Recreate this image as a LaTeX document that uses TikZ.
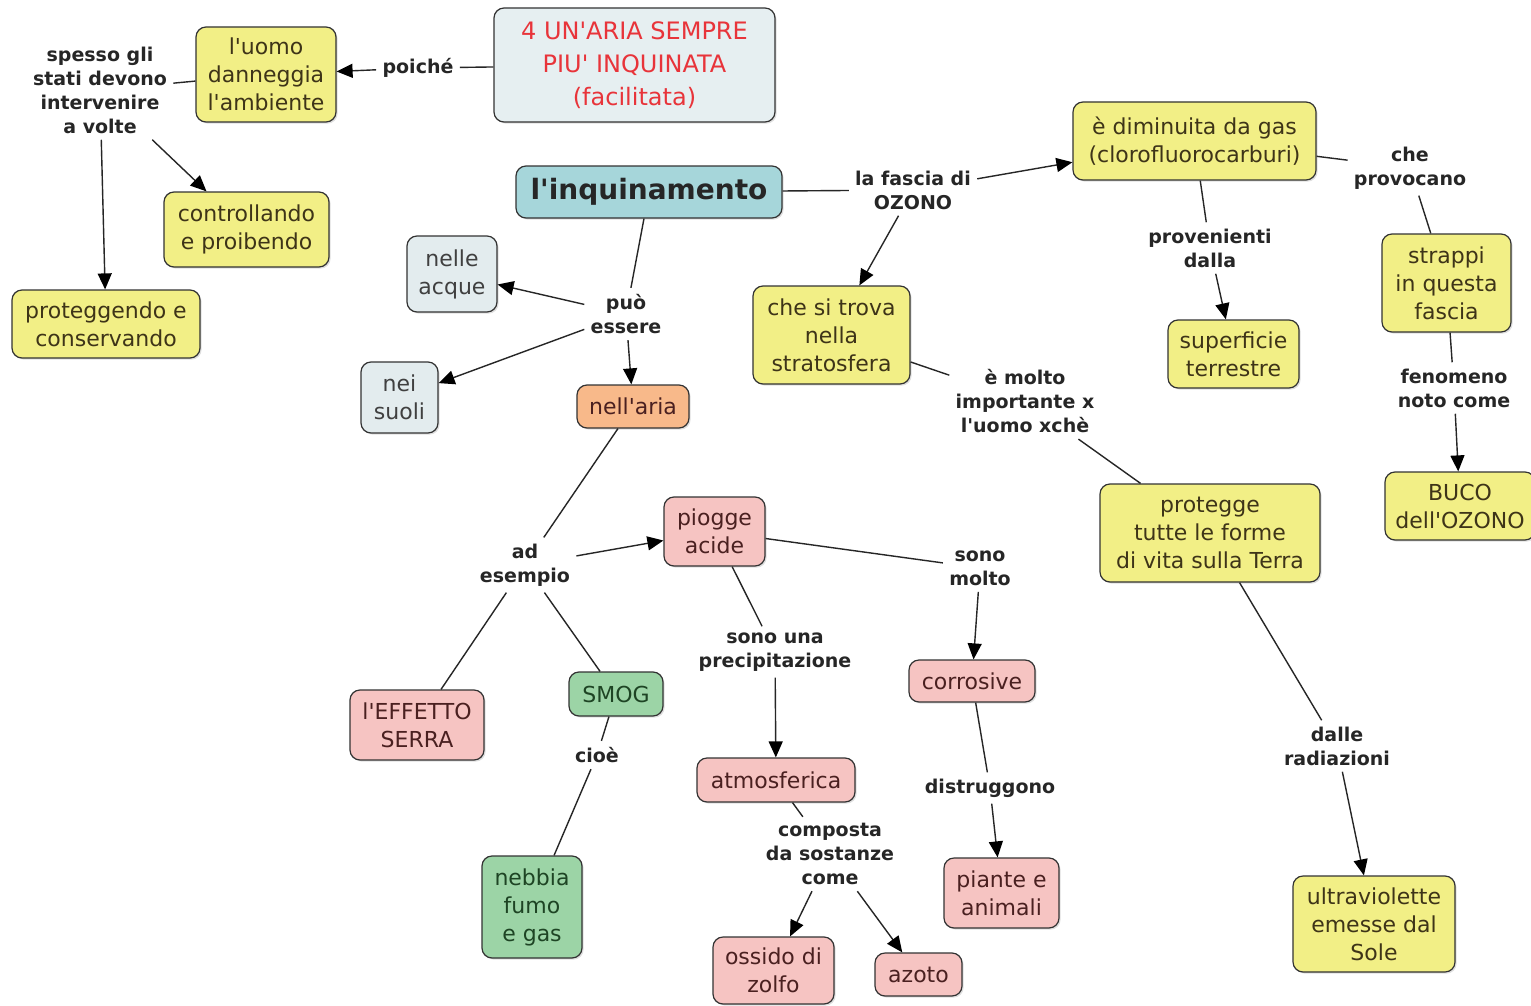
\documentclass[tikz,border=0pt]{standalone}
\usepackage{fontspec}
\setmainfont{DejaVu Sans}[Ligatures=TeXOff]
\usetikzlibrary{arrows.meta,shadows}
\definecolor{cyel}{HTML}{F2EF86}
\definecolor{ctitle}{HTML}{E6EFF1}
\definecolor{cinq}{HTML}{A6D6DA}
\definecolor{cgrey}{HTML}{E3ECEE}
\definecolor{corange}{HTML}{F8B98A}
\definecolor{cpink}{HTML}{F6C4C2}
\definecolor{cgreen}{HTML}{9CD4A6}
\definecolor{tred}{HTML}{E8343A}
\definecolor{tyel}{HTML}{3E3418}
\definecolor{tpink}{HTML}{4A2020}
\definecolor{tgreen}{HTML}{1E4424}
\tikzset{
  box/.style={draw=black!80, line width=0.6pt, rounded corners=5pt, align=center, inner sep=2pt,
    font=\fontsize{11}{14}\selectfont,
    drop shadow={shadow xshift=0.8pt, shadow yshift=-0.8pt, opacity=0.25}},
  yel/.style={box, fill=cyel, text=tyel},
  pink/.style={box, fill=cpink, text=tpink},
  green/.style={box, fill=cgreen, text=tgreen},
  grey/.style={box, fill=cgrey, text=black!75},
  lab/.style={align=center, font=\bfseries\fontsize{9.5}{12}\selectfont, inner sep=3pt, text=black!85},
  ln/.style={line width=0.7pt, draw=black!85},
  arr/.style={ln, -{Triangle[length=8pt,width=7pt,color=black]}},
  sz/.style 2 args={minimum width=#1, minimum height=#2},
}
\begin{document}
\begin{tikzpicture}[x=0.5pt, y=-0.5pt]
\useasboundingbox (0,0) rectangle (1531,1006);
\fill[white] (0,0) rectangle (1531,1006);

% concept nodes
\node[box, fill=ctitle, text=tred, font=\fontsize{12}{16.5}\selectfont, sz={140.5pt}{57pt}] (title) at (634.5,65) {4 UN'ARIA SEMPRE\\PIU' INQUINATA\\(facilitata)};
\node[yel, sz={70pt}{47.5pt}] (uomo) at (266,74.5) {l'uomo\\danneggia\\l'ambiente};
\node[yel, sz={82.5pt}{37.5pt}] (contr) at (246.5,229.5) {controllando\\e proibendo};
\node[yel, sz={94pt}{34pt}] (prot) at (106,324) {proteggendo e\\conservando};
\node[box, fill=cinq, text=black!85, font=\bfseries\fontsize{14}{16}\selectfont, sz={133pt}{26pt}] (inq) at (649,192) {l'inquinamento};
\node[yel, sz={121.5pt}{39pt}] (dimin) at (1194.5,141) {è diminuita da gas\\(clorofluorocarburi)};
\node[yel, sz={65.5pt}{34pt}] (superf) at (1233.5,354) {superficie\\terrestre};
\node[yel, sz={64.5pt}{49pt}] (strappi) at (1446.5,283) {strappi\\in questa\\fascia};
\node[yel, sz={75pt}{34pt}] (buco) at (1460,506) {BUCO\\dell'OZONO};
\node[yel, sz={78.5pt}{49pt}] (trova) at (831.5,335) {che si trova\\nella\\stratosfera};
\node[yel, sz={110pt}{49pt}] (protegge) at (1210,533) {protegge\\tutte le forme\\di vita sulla Terra};
\node[yel, sz={81pt}{48pt}] (ultra) at (1374,924) {ultraviolette\\emesse dal\\Sole};
\node[grey, sz={45pt}{38pt}] (acque) at (452,274) {nelle\\acque};
\node[grey, sz={38.5pt}{35.5pt}] (suoli) at (399.5,397.5) {nei\\suoli};
\node[box, fill=corange, text=tpink, sz={56pt}{21.5pt}] (aria) at (633,406.5) {nell'aria};
\node[pink, sz={50.5pt}{34.5pt}] (piogge) at (714.5,531.5) {piogge\\acide};
\node[pink, sz={63pt}{21pt}] (corrosive) at (972,681) {corrosive};
\node[pink, sz={79pt}{22pt}] (atmos) at (776,780) {atmosferica};
\node[pink, sz={60.5pt}{33.5pt}] (ossido) at (773.5,970.5) {ossido di\\zolfo};
\node[pink, sz={43.5pt}{21.5pt}] (azoto) at (918.5,974.5) {azoto};
\node[pink, sz={57.5pt}{35pt}] (piante) at (1001.5,893) {piante e\\animali};
\node[pink, sz={67pt}{35pt}] (effetto) at (417,725) {l'EFFETTO\\SERRA};
\node[green, sz={47pt}{22pt}] (smog) at (616,694) {SMOG};
\node[green, sz={50pt}{51pt}] (nebbia) at (532,907) {nebbia\\fumo\\e gas};

% linking phrases
\node[lab] (spesso) at (100,90) {spesso gli\\stati devono\\intervenire\\a volte};
\node[lab] (poiche) at (418,68) {poiché};
\node[lab] (fascia) at (913,190) {la fascia di\\OZONO};
\node[lab] (provocano) at (1410,168) {che\\provocano};
\node[lab] (provenienti) at (1210,248) {provenienti\\dalla};
\node[lab] (fenomeno) at (1454,388) {fenomeno\\noto come};
\node[lab] (importante) at (1025,401) {è molto\\importante x\\l'uomo xchè};
\node[lab] (dalle) at (1337,746) {dalle\\radiazioni};
\node[lab] (puo) at (626,314) {può\\essere};
\node[lab] (esempio) at (525,565) {ad\\esempio};
\node[lab] (sonomolto) at (980,568) {sono\\molto};
\node[lab] (sonouna) at (775,652) {sono una\\precipitazione};
\node[lab] (composta) at (830,854) {composta\\da sostanze\\come};
\node[lab] (distruggono) at (990,788) {distruggono};
\node[lab] (cioe) at (597,755) {cioè};

% connectors
\draw[ln] (title) -- (poiche);
\draw[arr] (poiche) -- (uomo);
\draw[ln] (uomo) -- (spesso);
\draw[arr] (spesso) -- (contr);
\draw[arr] (spesso) -- (prot);
\draw[ln] (inq) -- (fascia);
\draw[arr] (fascia) -- (dimin);
\draw[arr] (fascia) -- (trova);
\draw[ln] (inq) -- (puo);
\draw[arr] (puo) -- (acque);
\draw[arr] (puo) -- (suoli);
\draw[arr] (puo) -- (aria);
\draw[ln] (dimin) -- (provocano);
\draw[ln] (provocano) -- (strappi);
\draw[ln] (dimin) -- (provenienti);
\draw[arr] (provenienti) -- (superf);
\draw[ln] (strappi) -- (fenomeno);
\draw[arr] (fenomeno) -- (buco);
\draw[ln] (trova) -- (importante);
\draw[ln] (importante) -- (protegge);
\draw[ln] (protegge) -- (dalle);
\draw[arr] (dalle) -- (ultra);
\draw[ln] (aria) -- (esempio);
\draw[arr] (esempio) -- (piogge);
\draw[ln] (esempio) -- (effetto);
\draw[ln] (esempio) -- (smog);
\draw[ln] (piogge) -- (sonomolto);
\draw[arr] (sonomolto) -- (corrosive);
\draw[ln] (piogge) -- (sonouna);
\draw[arr] (sonouna) -- (atmos);
\draw[ln] (atmos) -- (composta);
\draw[arr] (composta) -- (ossido);
\draw[arr] (composta) -- (azoto);
\draw[ln] (corrosive) -- (distruggono);
\draw[arr] (distruggono) -- (piante);
\draw[ln] (smog) -- (cioe);
\draw[ln] (cioe) -- (nebbia);
\end{tikzpicture}
\end{document}
